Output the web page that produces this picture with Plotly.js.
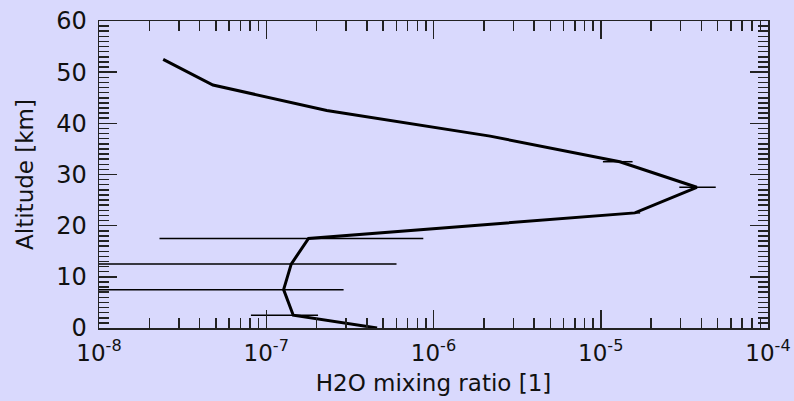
<!DOCTYPE html>
<html>
<head>
<meta charset="utf-8">
<script src="https://cdn.plot.ly/plotly-3.0.1.min.js"></script>
<style>html,body{margin:0;padding:0;background:#d9d9fd;}</style>
</head>
<body>
<div id="chart" style="width:794px;height:401px;"></div>
<script>
// Altitude levels [km]
const altitude = [0, 2.5, 7.5, 12.5, 17.5, 22.5, 27.5, 32.5, 37.5, 42.5, 47.5, 52.5];
// H2O mixing ratio [1]
const h2o = [4.6e-7, 1.45e-7, 1.27e-7, 1.41e-7, 1.79e-7, 1.6e-5, 3.75e-5, 1.3e-5, 2.18e-6, 2.3e-7, 4.8e-8, 2.42e-8];
// asymmetric horizontal error bars
const errPlus  = [0, 5.9e-8, 1.63e-7, 4.6e-7, 6.9e-7, 1.2e-6, 1.12e-5, 2.5e-6, 0, 0, 0, 0];
const errMinus = [0, 6.4e-8, 1.63e-7, 4.6e-7, 1.56e-7, 1.0e-6, 0.8e-5, 2.7e-6, 0, 0, 0, 0];

const xTickVals = [1e-8, 1e-7, 1e-6, 1e-5, 1e-4];
const xTickText = ['10<sup>-8</sup>', '10<sup>-7</sup>', '10<sup>-6</sup>', '10<sup>-5</sup>', '10<sup>-4</sup>'];
const yTickVals = [0, 10, 20, 30, 40, 50, 60];

const xMinor = [];
for (let e = -8; e < -4; e++) for (let d = 2; d <= 9; d++) xMinor.push(d * Math.pow(10, e));

const bg = '#d9d9fd';
const fontFam = 'DejaVu Sans, Liberation Sans, Arial, sans-serif';

const trace = {
  x: h2o, y: altitude, type: 'scatter', mode: 'lines',
  line: {color: '#000', width: 3},
  error_x: {type: 'data', symmetric: false, array: errPlus, arrayminus: errMinus,
            color: '#000', thickness: 1.5, width: 0},
  hoverinfo: 'x+y'
};

const layout = {
  width: 794, height: 401,
  paper_bgcolor: bg, plot_bgcolor: bg,
  margin: {l: 99, r: 26, t: 21, b: 73},
  showlegend: false,
  font: {family: fontFam, color: '#111', size: 22},
  xaxis: {
    type: 'log', range: [-8, -4],
    tickvals: xTickVals, ticktext: xTickText,
    ticks: 'inside', ticklen: 18, tickwidth: 1.5, tickcolor: '#222',
    minor: {tickvals: xMinor, ticks: 'inside', ticklen: 10, tickwidth: 1.5, tickcolor: '#222'},
    showline: true, linecolor: '#222', linewidth: 1.5, mirror: 'allticks',
    showgrid: false, zeroline: false,
    tickfont: {size: 23, family: fontFam},
    ticklabelstandoff: 4,
    title: {text: 'H2O mixing ratio [1]', font: {size: 23, family: fontFam}, standoff: 10}
  },
  yaxis: {
    range: [0, 60], tickvals: yTickVals,
    ticks: 'inside', ticklen: 18, tickwidth: 1.5, tickcolor: '#222',
    minor: {dtick: 1, ticks: 'inside', ticklen: 10, tickwidth: 1.5, tickcolor: '#222'},
    showline: true, linecolor: '#222', linewidth: 1.5, mirror: 'allticks',
    showgrid: false, zeroline: false,
    tickfont: {size: 24, family: fontFam},
    ticklabelstandoff: 6,
    title: {text: 'Altitude [km]', font: {size: 23, family: fontFam}, standoff: 16}
  }
};

Plotly.newPlot('chart', [trace], layout, {displayModeBar: false, staticPlot: true});
</script>
</body>
</html>
